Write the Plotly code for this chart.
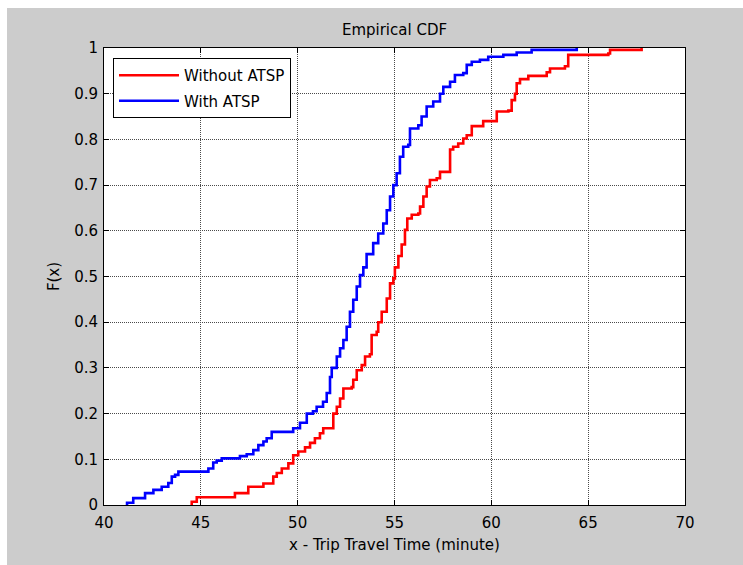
import plotly.graph_objects as go

# Empirical CDF of trip travel time (minutes): jump locations and the level after each jump
without_x = [44.53, 44.53, 44.79, 46.76, 47.45, 48.23, 48.74, 48.92, 49.18, 49.52, 49.77,
             50.03, 50.38, 50.64, 50.89, 51.15, 51.32, 51.84, 52.02, 52.19, 52.36, 52.79,
             52.87, 53.05, 53.31, 53.48, 53.73, 53.82, 54.08, 54.16, 54.34, 54.60, 54.77,
             54.94, 55.02, 55.20, 55.37, 55.54, 55.66, 55.89, 56.23, 56.32, 56.49, 56.66,
             56.83, 57.18, 57.35, 57.87, 58.03, 58.29, 58.55, 58.73, 58.99, 59.58, 60.28,
             60.88, 61.05, 61.22, 61.31, 61.48, 61.91, 62.86, 63.03, 63.80, 63.97, 66.04,
             66.13, 67.76]
without_F = [0.000, 0.007, 0.017, 0.026, 0.040, 0.047, 0.062, 0.070, 0.080, 0.091, 0.109,
             0.117, 0.126, 0.136, 0.146, 0.157, 0.168, 0.200, 0.215, 0.233, 0.255, 0.258,
             0.274, 0.295, 0.306, 0.325, 0.330, 0.372, 0.379, 0.400, 0.423, 0.452, 0.485,
             0.496, 0.520, 0.545, 0.570, 0.602, 0.627, 0.635, 0.638, 0.653, 0.675, 0.697,
             0.711, 0.715, 0.729, 0.778, 0.784, 0.791, 0.802, 0.809, 0.829, 0.840, 0.861,
             0.863, 0.886, 0.900, 0.923, 0.932, 0.939, 0.947, 0.955, 0.960, 0.985, 0.988,
             0.996, 1.000]

with_x = [41.19, 41.19, 41.51, 42.12, 42.55, 42.98, 43.32, 43.50, 43.67, 43.84, 45.39,
          45.64, 45.82, 46.08, 47.02, 47.37, 47.71, 47.97, 48.23, 48.40, 48.66, 49.77,
          50.12, 50.47, 50.79, 50.98, 51.31, 51.50, 51.67, 51.76, 52.02, 52.19, 52.36,
          52.53, 52.70, 52.87, 53.05, 53.22, 53.39, 53.56, 53.90, 54.16, 54.42, 54.60,
          54.77, 54.94, 55.11, 55.28, 55.45, 55.71, 55.80, 56.23, 56.40, 56.66, 57.00,
          57.35, 57.52, 57.87, 58.12, 58.55, 58.73, 58.99, 59.41, 59.84, 60.62, 61.31,
          62.08, 64.41]
with_F = [0.000, 0.005, 0.015, 0.026, 0.033, 0.040, 0.048, 0.062, 0.066, 0.073, 0.080,
          0.093, 0.097, 0.102, 0.107, 0.111, 0.120, 0.131, 0.139, 0.146, 0.160, 0.168,
          0.180, 0.200, 0.205, 0.215, 0.226, 0.245, 0.280, 0.300, 0.325, 0.343, 0.361,
          0.390, 0.423, 0.449, 0.478, 0.503, 0.520, 0.549, 0.573, 0.594, 0.616, 0.645,
          0.675, 0.700, 0.726, 0.762, 0.784, 0.788, 0.824, 0.831, 0.850, 0.872, 0.883,
          0.900, 0.915, 0.926, 0.941, 0.945, 0.963, 0.970, 0.974, 0.981, 0.985, 0.990,
          0.996, 1.000]

x_ticks = [40, 45, 50, 55, 60, 65, 70]
y_ticks = [0, 0.1, 0.2, 0.3, 0.4, 0.5, 0.6, 0.7, 0.8, 0.9, 1]
y_tick_text = ["0", "0.1", "0.2", "0.3", "0.4", "0.5", "0.6", "0.7", "0.8", "0.9", "1"]

FONT = "DejaVu Sans, Arial, sans-serif"
W, H = 743, 565
ML, MR, MT, MB = 104, 58, 48, 60

fig = go.Figure()
fig.add_trace(go.Scatter(x=without_x, y=without_F, mode="lines", name="Without ATSP",
                         line=dict(color="#FF0000", width=2.6, shape="hv"),
                         legendgroup="a"))
fig.add_trace(go.Scatter(x=with_x, y=with_F, mode="lines", name="With ATSP",
                         line=dict(color="#0000FF", width=2.6, shape="hv"),
                         legendgroup="b"))

axis_common = dict(
    showline=True, linecolor="black", linewidth=1, mirror="ticks",
    ticks="inside", ticklen=5, tickcolor="black", tickwidth=1,
    showgrid=True, gridcolor="#4a4a4a", griddash="1px,1px", gridwidth=1,
    zeroline=False, tickfont=dict(family=FONT, size=15, color="black"),
)

fig.update_xaxes(range=[40, 70], tickvals=x_ticks, ticktext=[str(v) for v in x_ticks],
                 title=dict(text="x - Trip Travel Time (minute)",
                            font=dict(family=FONT, size=15, color="black"), standoff=8),
                 ticklabelstandoff=4, **axis_common)
fig.update_yaxes(range=[0, 1], tickvals=y_ticks, ticktext=y_tick_text,
                 title=dict(text="F(x)", font=dict(family=FONT, size=15, color="black"),
                            standoff=10),
                 ticklabelstandoff=2, **axis_common)

# white strip along the top and left of the figure window
pw, ph = W - ML - MR, H - MT - MB
fig.add_shape(type="rect", xref="paper", yref="paper", layer="below",
              x0=-ML / pw, x1=(7 - ML) / pw, y0=-MB / ph, y1=(H - MB) / ph,
              fillcolor="white", line=dict(width=0))
fig.add_shape(type="rect", xref="paper", yref="paper", layer="below",
              x0=-ML / pw, x1=(W - ML) / pw, y0=(H - MB - 8) / ph, y1=(H - MB) / ph,
              fillcolor="white", line=dict(width=0))

fig.update_layout(
    width=W, height=H,
    margin=dict(l=ML, r=MR, t=MT, b=MB),
    paper_bgcolor="#CCCCCC", plot_bgcolor="white",
    font=dict(family=FONT, size=15, color="black"),
    title=dict(text="Empirical CDF", x=(ML + pw / 2) / W, xanchor="center",
               y=1 - 30 / H, yanchor="middle",
               font=dict(family=FONT, size=15, color="black")),
    showlegend=True,
    legend=dict(x=(113 - ML) / pw, y=1 - (58 - MT) / ph, xanchor="left", yanchor="top",
                bgcolor="white", bordercolor="black", borderwidth=1,
                font=dict(family=FONT, size=15, color="black"),
                itemwidth=60, traceorder="grouped", tracegroupgap=3),
)

# keep the page around the figure in the same grey as the figure window
fig.write_html("out.html",
               post_script="document.body.style.margin='0';"
                           "document.body.style.background='#CCCCCC';")
